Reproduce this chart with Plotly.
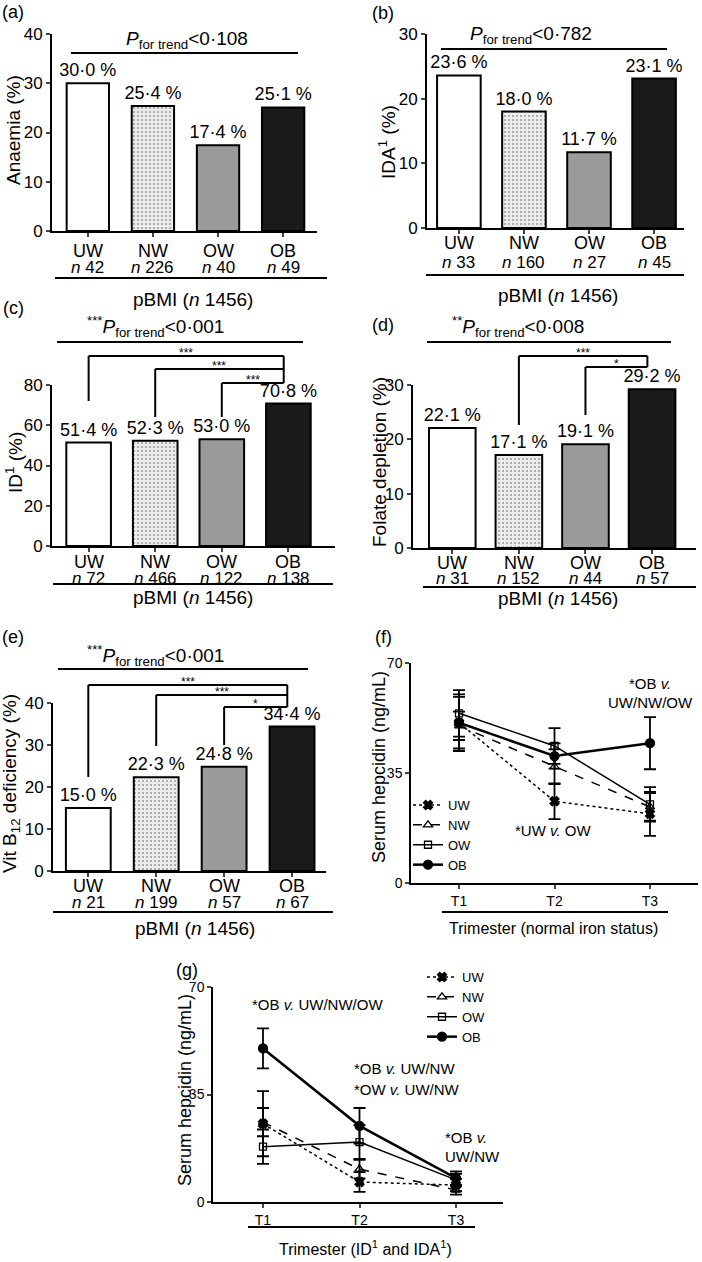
import plotly.graph_objects as go

W, H = 702, 1262
FONT = "Liberation Sans, Arial, Helvetica, sans-serif"


def PX(x):
    return x / W


def PY(y):
    return 1 - y / H


# ---------------- data ----------------
categories = ["UW", "NW", "OW", "OB"]
anaemia_pct = [30.0, 25.4, 17.4, 25.1]
anaemia_n = [42, 226, 40, 49]
ida_pct = [23.6, 18.0, 11.7, 23.1]
ida_n = [33, 160, 27, 45]
id_pct = [51.4, 52.3, 53.0, 70.8]
id_n = [72, 466, 122, 138]
folate_pct = [22.1, 17.1, 19.1, 29.2]
folate_n = [31, 152, 44, 57]
b12_pct = [15.0, 22.3, 24.8, 34.4]
b12_n = [21, 199, 57, 67]

trimesters = ["T1", "T2", "T3"]
trimester_pos = [1, 2, 3]
# (f) normal iron status: mean and error
f_uw = [51.0, 26.0, 22.0]
f_uw_err = [9.0, 5.7, 7.0]
f_nw = [50.0, 37.0, 24.2]
f_nw_err = [4.5, 5.5, 4.4]
f_ow = [54.0, 43.6, 25.0]
f_ow_err = [7.4, 5.7, 5.5]
f_ob = [51.0, 40.4, 44.5]
f_ob_err = [8.2, 4.0, 8.3]
# (g) ID and IDA
g_uw = [25.5, 6.5, 5.5]
g_uw_err = [10.6, 3.2, 2.0]
g_nw = [26.0, 10.7, 3.9]
g_nw_err = [4.6, 3.0, 1.5]
g_ow = [18.0, 19.5, 7.2]
g_ow_err = [5.6, 5.5, 2.0]
g_ob = [50.0, 24.8, 7.8]
g_ob_err = [6.5, 5.8, 2.2]

fill_colors = ["#ffffff", "#ececec", "#9b9b9b", "#1a1a1a"]


def fmt(v):
    return f"{v:.1f}".replace(".", "·") + " %"


bar_panels = [
    dict(i=1, label="(a)", label_xy=(13, 12), vals=anaemia_pct, ns=anaemia_n, ymax=40, dtick=10,
         xdom=(52, 317), ydom=(34, 231), xr=(-0.55, 3.52), bw=0.65,
         ytitle="Anaemia (%)", ytitle_xy=(14, 130),
         trend="<i>P</i><sub>for trend</sub>&lt;0·108", trend_xy=(187, 40), trend_line=(71, 298, 53),
         cat_y=251, n_y=267, under=(55, 327, 278), pbmi_xy=(193, 299), brackets=[]),
    dict(i=2, label="(b)", label_xy=(383, 13), vals=ida_pct, ns=ida_n, ymax=30, dtick=10,
         xdom=(427, 684), ydom=(34, 228), xr=(-0.49, 3.46), bw=0.67,
         ytitle="IDA<sup>1</sup> (%)", ytitle_xy=(387, 142),
         trend="<i>P</i><sub>for trend</sub>&lt;0·782", trend_xy=(531, 35), trend_line=(441, 667, 49),
         cat_y=243, n_y=262, under=(426, 684, 275), pbmi_xy=(558, 295), brackets=[]),
    dict(i=3, label="(c)", label_xy=(13, 308), vals=id_pct, ns=id_n, ymax=80, dtick=20,
         xdom=(52, 335), ydom=(385, 546), xr=(-0.55, 3.70), bw=0.67,
         ytitle="ID<sup>1</sup> (%)", ytitle_xy=(14, 463),
         trend="<sup>***</sup><i>P</i><sub>for trend</sub>&lt;0·001", trend_xy=(155, 327), trend_line=(57, 303, 342),
         cat_y=562, n_y=578, under=(53, 333, 584), pbmi_xy=(193, 597),
         brackets=[(0, 356, 401, "***"), (1, 369, 417, "***"), (2, 383, 417, "***")]),
    dict(i=4, label="(d)", label_xy=(383, 325), vals=folate_pct, ns=folate_n, ymax=30, dtick=10,
         xdom=(413, 696), ydom=(385, 548), xr=(-0.59, 3.66), bw=0.70,
         ytitle="Folate depletion (%)", ytitle_xy=(379, 462),
         trend="<sup>**</sup><i>P</i><sub>for trend</sub>&lt;0·008", trend_xy=(518, 327), trend_line=(427, 671, 342),
         cat_y=563, n_y=578, under=(423, 696, 587), pbmi_xy=(558, 598),
         brackets=[(1, 356, 425, "***"), (2, 367, 415, "*")]),
    dict(i=5, label="(e)", label_xy=(13, 637), vals=b12_pct, ns=b12_n, ymax=40, dtick=10,
         xdom=(53, 326), ydom=(703, 871), xr=(-0.52, 3.50), bw=0.66,
         ytitle="Vit B<sub>12</sub> deficiency (%)", ytitle_xy=(11, 784),
         trend="<sup>***</sup><i>P</i><sub>for trend</sub>&lt;0·001", trend_xy=(155, 655), trend_line=(58, 308, 669),
         cat_y=886, n_y=902, under=(53, 333, 912), pbmi_xy=(195, 928),
         brackets=[(0, 685, 777, "***"), (1, 695, 746, "***"), (2, 707, 745, "*")]),
]

fig = go.Figure()
layout = dict(width=W, height=H, margin=dict(l=0, r=0, t=0, b=0, pad=0, autoexpand=False),
              paper_bgcolor="white", plot_bgcolor="white",
              font=dict(family=FONT, color="black"))
annotations = []
shapes = []


def ax_name(kind, i):
    return f"{kind}axis" if i == 1 else f"{kind}axis{i}"


def ref(kind, i):
    return kind if i == 1 else f"{kind}{i}"


def ann(text, x, y, size, xref="paper", yref="paper", xanchor="center", yanchor="middle", angle=0, **kw):
    annotations.append(dict(text=text, x=x, y=y, xref=xref, yref=yref, xanchor=xanchor,
                            yanchor=yanchor, showarrow=False, textangle=angle,
                            font=dict(size=size, family=FONT, color="black"), **kw))


def line(x0, y0, x1, y1, xref="paper", yref="paper", width=2, color="black"):
    shapes.append(dict(type="line", x0=x0, y0=y0, x1=x1, y1=y1, xref=xref, yref=yref,
                       line=dict(color=color, width=width)))


for p in bar_panels:
    i = p["i"]
    xr, yr = ref("x", i), ref("y", i)
    fig.add_trace(go.Bar(
        x=list(range(len(categories))), y=p["vals"], width=p["bw"],
        marker=dict(color=fill_colors, line=dict(color="black", width=2),
                    pattern=dict(shape=["", ".", "", ""], fgcolor="#8a8a8a", size=4, solidity=0.2)),
        text=[fmt(v) for v in p["vals"]], textposition="outside", constraintext="none",
        textfont=dict(size=18, family=FONT, color="black"), cliponaxis=False,
        xaxis=xr, yaxis=yr, showlegend=False, hoverinfo="skip"))
    layout[ax_name("x", i)] = dict(
        domain=[PX(p["xdom"][0]), PX(p["xdom"][1])], range=list(p["xr"]), anchor=yr,
        showline=True, linewidth=2, linecolor="black", ticks="outside", ticklen=4, tickwidth=2,
        tickvals=list(range(len(categories))), showticklabels=False, showgrid=False, zeroline=False)
    layout[ax_name("y", i)] = dict(
        domain=[PY(p["ydom"][1]), PY(p["ydom"][0])], range=[0, p["ymax"]], anchor=xr,
        showline=True, linewidth=2, linecolor="black", ticks="outside", ticklen=4, tickwidth=2,
        tickvals=list(range(0, p["ymax"] + 1, p["dtick"])), tickfont=dict(size=17, family=FONT),
        showgrid=False, zeroline=False)
    # category and n labels
    for k, (c, n) in enumerate(zip(categories, p["ns"])):
        ann(c, k, PY(p["cat_y"]), 18, xref=xr)
        ann(f"<i>n</i> {n}", k, PY(p["n_y"]), 17, xref=xr)
    ux0, ux1, uy = p["under"]
    line(PX(ux0), PY(uy), PX(ux1), PY(uy))
    ann("pBMI (<i>n</i> 1456)", PX(p["pbmi_xy"][0]), PY(p["pbmi_xy"][1]), 19)
    ann(p["label"], PX(p["label_xy"][0]), PY(p["label_xy"][1]), 18)
    ann(p["ytitle"], PX(p["ytitle_xy"][0]), PY(p["ytitle_xy"][1]), 19, angle=-90)
    ann(p["trend"], PX(p["trend_xy"][0]), PY(p["trend_xy"][1]), 19)
    tx0, tx1, ty = p["trend_line"]
    line(PX(tx0), PY(ty), PX(tx1), PY(ty))
    # significance brackets
    if p["brackets"]:
        right = len(categories) - 1 - 0.07
        tops = [b[1] for b in p["brackets"]]
        line(right, PY(min(tops)), right, PY(max(tops)), xref=xr)
        for (left, top, bottom, stars) in p["brackets"]:
            line(left, PY(top), right, PY(top), xref=xr)
            line(left, PY(top), left, PY(bottom), xref=xr)
            ann(stars, (left + right) / 2, PY(top - 3), 12, xref=xr)

# ---------------- hepcidin panels ----------------
line_panels = [
    dict(i=6, label="(f)", label_xy=(383, 637), xdom=(411, 698), ydom=(663, 883), xr=(0.497, 3.503),
         series=[(f_uw, f_uw_err), (f_nw, f_nw_err), (f_ow, f_ow_err), (f_ob, f_ob_err)],
         ytitle_xy=(379, 767), xtitle="Trimester (normal iron status)", xtitle_xy=(553, 928),
         under=(442, 668, 912), legend="legend",
         notes=[("*OB <i>v.</i>", 650, 683, "center"), ("UW/NW/OW", 650, 702, "center"),
                ("*UW <i>v.</i> OW", 553, 830, "center")]),
    dict(i=7, label="(g)", label_xy=(187, 970), xdom=(213, 503), ydom=(987, 1202), xr=(0.482, 3.487),
         series=[(g_uw, g_uw_err), (g_nw, g_nw_err), (g_ow, g_ow_err), (g_ob, g_ob_err)],
         ytitle_xy=(185, 1090), xtitle="Trimester (ID<sup>1</sup> and IDA<sup>1</sup>)", xtitle_xy=(365, 1248),
         under=(248, 475, 1227), legend="legend2",
         notes=[("*OB <i>v.</i> UW/NW/OW", 317, 1004, "center"), ("*OB <i>v.</i> UW/NW", 352, 1068, "left"),
                ("*OW <i>v.</i> UW/NW", 352, 1089, "left"), ("*OB <i>v.</i>", 443, 1137, "left"),
                ("UW/NW", 443, 1156, "left")]),
]

styles = [
    dict(dash="dot", width=1.5, symbol="x", size=8),
    dict(dash="dash", width=1.5, symbol="triangle-up-open", size=8),
    dict(dash="solid", width=1.5, symbol="square-open", size=7),
    dict(dash="solid", width=2.5, symbol="circle", size=9),
]

for p in line_panels:
    i = p["i"]
    xr, yr = ref("x", i), ref("y", i)
    for name, (vals, errs), st in zip(categories, p["series"], styles):
        fig.add_trace(go.Scatter(
            x=trimester_pos, y=vals, name=name, mode="lines+markers",
            line=dict(color="black", dash=st["dash"], width=st["width"]),
            marker=dict(symbol=st["symbol"], size=st["size"], color="black",
                        line=dict(color="black", width=1.3)),
            error_y=dict(type="data", array=errs, visible=True, thickness=1.8, width=6, color="black"),
            xaxis=xr, yaxis=yr, legend=p["legend"], cliponaxis=False, hoverinfo="skip"))
    layout[ax_name("x", i)] = dict(
        domain=[PX(p["xdom"][0]), PX(p["xdom"][1])], range=list(p["xr"]), anchor=yr,
        showline=True, linewidth=1.5, linecolor="black", ticks="outside", ticklen=4, tickwidth=1.5,
        tickvals=trimester_pos, ticktext=trimesters, tickfont=dict(size=14, family=FONT),
        showgrid=False, zeroline=False)
    layout[ax_name("y", i)] = dict(
        domain=[PY(p["ydom"][1]), PY(p["ydom"][0])], range=[0, 70], anchor=xr,
        showline=True, linewidth=1.5, linecolor="black", ticks="outside", ticklen=4, tickwidth=1.5,
        tickvals=[0, 35, 70], tickfont=dict(size=14, family=FONT), showgrid=False, zeroline=False)
    ann(p["label"], PX(p["label_xy"][0]), PY(p["label_xy"][1]), 18)
    ann("Serum hepcidin (ng/mL)", PX(p["ytitle_xy"][0]), PY(p["ytitle_xy"][1]), 18, angle=-90)
    ann(p["xtitle"], PX(p["xtitle_xy"][0]), PY(p["xtitle_xy"][1]), 16)
    ux0, ux1, uy = p["under"]
    line(PX(ux0), PY(uy), PX(ux1), PY(uy))
    for text, x, y, anchor in p["notes"]:
        ann(text, PX(x), PY(y), 15, xanchor=anchor)

legend_common = dict(xanchor="left", yanchor="top", font=dict(size=13, family=FONT),
                     itemwidth=30, bgcolor="rgba(0,0,0,0)", tracegroupgap=0)
layout["legend"] = dict(x=PX(408), y=PY(790), **legend_common)
layout["legend2"] = dict(x=PX(422), y=PY(962), **legend_common)
layout["annotations"] = annotations
layout["shapes"] = shapes
fig.update_layout(**layout)

fig.write_html(
    "out.html",
    config={"displayModeBar": False},
    post_script="document.body.style.margin='0px';document.body.style.padding='0px';"
                "document.documentElement.style.overflow='hidden';",
)
